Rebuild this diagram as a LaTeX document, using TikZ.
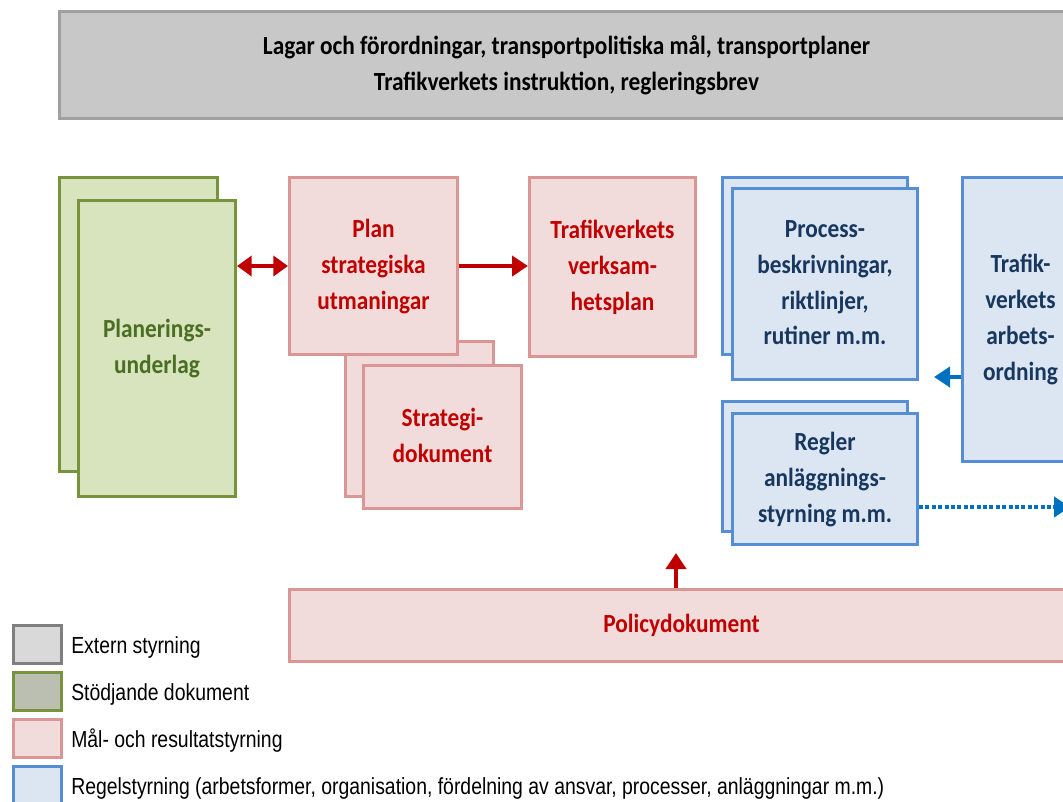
\documentclass[tikz,border=0pt]{standalone}
\usepackage{fontspec}
\usepackage{graphicx}
\setmainfont{Carlito}
\newfontfamily\legfont{Liberation Sans}
\usetikzlibrary{arrows.meta,calc}
\definecolor{gfill}{HTML}{D7E4BD}
\definecolor{gline}{HTML}{77933C}
\definecolor{gtext}{HTML}{4A6E22}
\definecolor{rfill}{HTML}{F2DCDB}
\definecolor{rline}{HTML}{D99694}
\definecolor{rtext}{HTML}{C00000}
\definecolor{bfill}{HTML}{DCE6F2}
\definecolor{bline}{HTML}{558ED5}
\definecolor{btext}{HTML}{17375E}
\definecolor{tfill}{HTML}{C8C8C8}
\definecolor{tline}{HTML}{A0A0A0}
\definecolor{ablue}{HTML}{0070C0}
\definecolor{lgfill}{HTML}{D9D9D9}
\definecolor{lgline}{HTML}{7F7F7F}
\definecolor{lggreen}{HTML}{BBBFB2}
\newcommand{\ct}[1]{\scalebox{1}[1.12]{\begin{tabular}{@{}c@{}}#1\end{tabular}}}
\newcommand{\lt}[1]{\scalebox{1}[1.2]{#1}}
\begin{document}
\begin{tikzpicture}[x=0.75pt,y=-0.75pt,
  wh/.style 2 args={minimum width=#1*0.75pt, minimum height=#2*0.75pt},
  box/.style={draw, line width=2.25pt, anchor=north west, inner sep=0pt,
    font=\bfseries\fontsize{17.5}{24}\selectfont},
  gbox/.style={box, fill=gfill, draw=gline, text=gtext},
  rbox/.style={box, fill=rfill, draw=rline, text=rtext},
  bbox/.style={box, fill=bfill, draw=bline, text=btext},
  tbox/.style={box, fill=tfill, draw=tline, text=black},
  legbox/.style={draw, line width=2.25pt, anchor=north west, inner sep=0pt, minimum width=36pt, minimum height=28.5pt},
  legtext/.style={anchor=west, inner sep=0pt, font=\legfont\fontsize{14.55}{17}\selectfont},
  redarrow/.style={draw=rtext, line width=3pt, -{Triangle[length=12pt,width=15pt]}},
  redboth/.style={draw=rtext, line width=3pt, {Triangle[length=11pt,width=15pt]}-{Triangle[length=11pt,width=15pt]}},
  bluearrow/.style={draw=ablue, line width=3pt, -{Triangle[length=12pt,width=15pt]}},
  dotarrow/.style={draw=ablue, line width=3pt, dash pattern=on 3pt off 1.8pt, -{Triangle[length=12pt,width=15pt]}}
]
\useasboundingbox (0,0) rectangle (1063,801);
\clip (0,0) rectangle (1063,801);
\fill[white] (0,0) rectangle (1063,801);

% top box
\node[tbox, wh={1014}{107}] (top) at (58,10) {\ct{Lagar och förordningar, transportpolitiska mål, transportplaner\\Trafikverkets instruktion, regleringsbrev}};

% green
\node[gbox, wh={158}{294}] (gb) at (58,176) {};
\node[gbox, wh={157}{296}] (gf) at (77,199) {\ct{Planerings-\\underlag}};

% red
\node[rbox, wh={148}{155}] (sb) at (344,340) {};
\node[rbox, wh={168}{177}] (plan) at (288,176) {\ct{Plan\\strategiska\\utmaningar}};
\node[rbox, wh={158}{143}] (sf) at (362,364) {\ct{Strategi-\\dokument}};
\node[rbox, wh={166}{179}] (vp) at (528,176) {\ct{Trafikverkets\\verksam-\\hetsplan}};
\node[rbox, wh={784}{72}] (pol) at (288,588) {\ct{Policydokument}};

% blue
\node[bbox, wh={185}{177}] (pb) at (721,176) {};
\node[bbox, wh={185}{191}] (pf) at (731,187) {\ct{Process-\\beskrivningar,\\riktlinjer,\\rutiner m.m.}};
\node[bbox, wh={116}{284}] (tr) at (961,176) {\ct{Trafik-\\verkets\\arbets-\\ordning}};
\node[bbox, wh={185}{130}] (rb) at (721,400) {};
\node[bbox, wh={185}{131}] (rf) at (731,412) {\ct{Regler\\anläggnings-\\styrning m.m.}};

% connectors
\draw[redboth] (gf.east |- plan.west) -- (plan.west);
\draw[redarrow] (plan.east) -- (plan.east -| vp.west);
\coordinate (upend) at (676,553);
\draw[redarrow] (pol.north -| upend) -- (upend);
\coordinate (blend) at (934,377);
\draw[bluearrow] (tr.west |- blend) -- (blend);
\coordinate (dotend) at (1070,507);
\draw[dotarrow] (rf.east |- dotend) -- (dotend);

% legend
\node[legbox, fill=lgfill, draw=lgline] (l1) at (12,624) {};
\node[legbox, fill=lggreen, draw=gline] (l2) at (12,671) {};
\node[legbox, fill=rfill, draw=rline] (l3) at (12,718) {};
\node[legbox, fill=bfill, draw=bline] (l4) at (12,765) {};
\node[legtext] (t1) at (71,647) {\lt{Extern styrning}};
\node[legtext] (t2) at (71,694) {\lt{Stödjande dokument}};
\node[legtext] (t3) at (71,741) {\lt{Mål- och resultatstyrning}};
\node[legtext] (t4) at (71,788) {\lt{Regelstyrning (arbetsformer, organisation, fördelning av ansvar, processer, anläggningar m.m.)}};
\end{tikzpicture}
\end{document}
